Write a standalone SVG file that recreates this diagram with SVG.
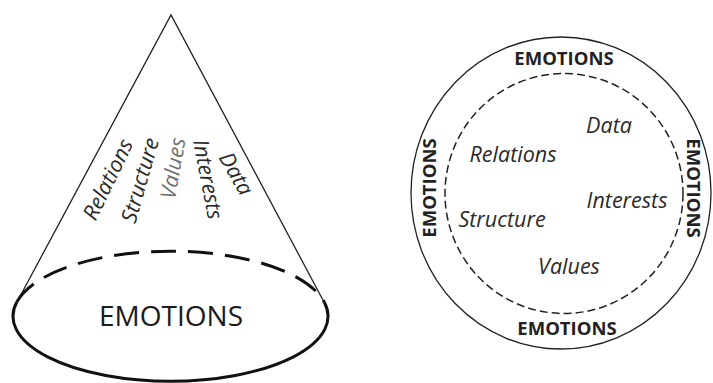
<svg xmlns="http://www.w3.org/2000/svg" width="713" height="383" viewBox="0 0 713 383">
<style>
.bg{fill:#fff}
.thin{fill:none;stroke:#222;stroke-width:1.3}
.thick{fill:none;stroke:#111;stroke-width:3}
.dash-thick{fill:none;stroke:#111;stroke-width:3;stroke-dasharray:25 12}
.dash-thin{fill:none;stroke:#222;stroke-width:1.5;stroke-dasharray:8 4}
.it{font-family:"Open Sans","Liberation Sans",sans-serif;font-style:italic;font-size:21.5px;fill:#2a2a2a;text-anchor:middle;dominant-baseline:central}
.gray{fill:#707070}
.big{font-family:"Open Sans","Liberation Sans",sans-serif;font-size:28px;fill:#1a1a1a;text-anchor:middle}
.emo{font-family:"Open Sans","Liberation Sans",sans-serif;font-weight:bold;font-size:18.5px;fill:#222;text-anchor:middle}
</style>
<rect class="bg" x="0" y="0" width="713" height="383"/>
<g id="cone">
  <path class="thin" d="M17,302 L171,15 L324,302"/>
  <path class="dash-thick" d="M16.8,302 A157.5,65 0 0,1 324.2,302"/>
  <path class="thick" d="M16.8,302 A157.5,65 0 1,0 324.2,302"/>
  <text class="big" x="171" y="326">EMOTIONS</text>
  <text class="it" transform="translate(107,179) rotate(-64)">Relations</text>
  <text class="it" transform="translate(139,180) rotate(-74)">Structure</text>
  <text class="it gray" transform="translate(172,168) rotate(-80)">Values</text>
  <text class="it" transform="translate(209,179) rotate(79)">Interests</text>
  <text class="it" transform="translate(237,173) rotate(60)">Data</text>
</g>
<g id="circle">
  <ellipse class="thin" cx="561" cy="193" rx="150" ry="156"/>
  <ellipse class="dash-thin" cx="564" cy="193.5" rx="119" ry="120"/>
  <text class="emo" x="564" y="65">EMOTIONS</text>
  <text class="emo" x="567" y="335">EMOTIONS</text>
  <text class="emo" transform="translate(436,188) rotate(-90)">EMOTIONS</text>
  <text class="emo" transform="translate(687,188) rotate(90)">EMOTIONS</text>
  <text class="it" x="609" y="124">Data</text>
  <text class="it" x="513" y="153">Relations</text>
  <text class="it" x="627" y="199">Interests</text>
  <text class="it" x="502" y="218">Structure</text>
  <text class="it" x="569" y="265">Values</text>
</g>
</svg>
